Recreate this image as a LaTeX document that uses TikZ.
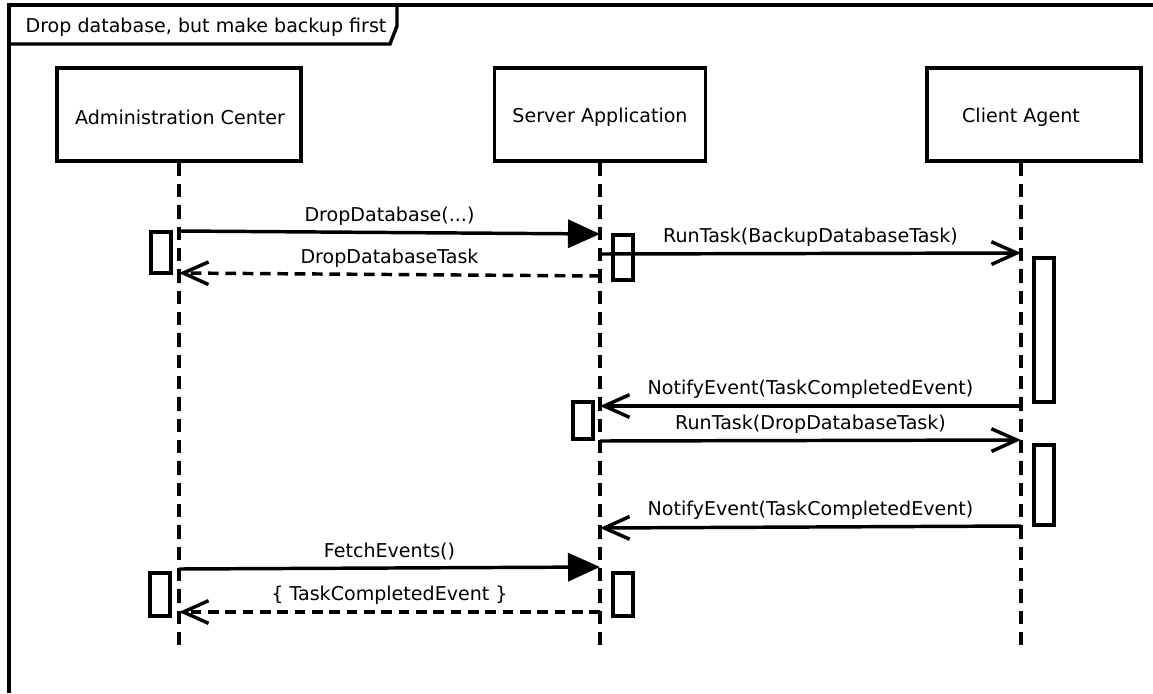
\documentclass[tikz,border=0pt]{standalone}
\usepackage{fontspec}
\setmainfont{DejaVu Sans}
\usetikzlibrary{arrows.meta}

\begin{document}
\begin{tikzpicture}[x=0.75pt,y=-0.75pt,line width=2.6pt,
    font=\fontsize{14.3}{17}\selectfont,
    headbox/.style={draw,rectangle,inner sep=0pt,minimum height=69.75pt},
    lifeline/.style={dash pattern=on 10pt off 6pt},
    call/.style={-{Triangle[length=24pt,width=21pt]}},
    msg/.style={-{Straight Barb[length=19pt,width=17pt]}},
    reply/.style={msg,dash pattern=on 8pt off 5pt},
    lbl/.style={midway,above=1pt}]
    \useasboundingbox (0,0) rectangle (1153,693);

    % frame
    \draw (9,693) -- (9,5) -- (1153,5);
    \draw (9,44) -- (390,44) -- (397,26) -- (397,5);
    \node (title) at (206,27) {Drop database, but make backup first};

    % lifeline heads
    \node[headbox,minimum width=183pt] (admin) at (179,114.5) {};
    \node[headbox,minimum width=158.25pt] (server) at (600,114.5) {};
    \node[headbox,minimum width=160.5pt] (client) at (1034,114.5) {};
    \node (adminname) at (180,117) {Administration Center};
    \node (servername) at (600,117) {Server Application};
    \node (clientname) at (1021,117) {Client Agent};

    \draw[lifeline] (admin.south) -- ++(0,484);
    \draw[lifeline] (server.south) -- ++(0,484);
    \draw[lifeline] (clientname |- client.south) -- ++(0,484);

    % activations
    \foreach \x/\ya/\yb in {151/232/273, 150/573/616, 613/235/280, 573/402/439,
                            613/573/616, 1034/258/402, 1034/445/525} {
        \draw (\x,\ya) rectangle (\x+20,\yb);
    }

    % message ends
    \foreach \name/\x/\y in {a1/179/231, s1/600/234, s2/600/276, a2/179/273,
                             s3/600/254, c3/1021/253, c4/1021/406, s4/600/406,
                             s5/600/441, c5/1021/440, c6/1021/526, s6/600/528,
                             a7/179/569, s7/600/567, s8/600/612, a8/179/612} {
        \coordinate (\name) at (\x,\y);
    }

    \draw[call] (a1) -- node[lbl] {DropDatabase(...)} (s1);
    \draw[reply] (s2) -- node[lbl] {DropDatabaseTask} (a2);
    \draw[msg] (s3) -- node[lbl] {RunTask(BackupDatabaseTask)} (c3);
    \draw[msg] (c4) -- node[lbl] {NotifyEvent(TaskCompletedEvent)} (s4);
    \draw[msg] (s5) -- node[lbl] {RunTask(DropDatabaseTask)} (c5);
    \draw[msg] (c6) -- node[lbl] {NotifyEvent(TaskCompletedEvent)} (s6);
    \draw[call] (a7) -- node[lbl] {FetchEvents()} (s7);
    \draw[reply] (s8) -- node[lbl] {\{ TaskCompletedEvent \}} (a8);

\end{tikzpicture}
\end{document}
